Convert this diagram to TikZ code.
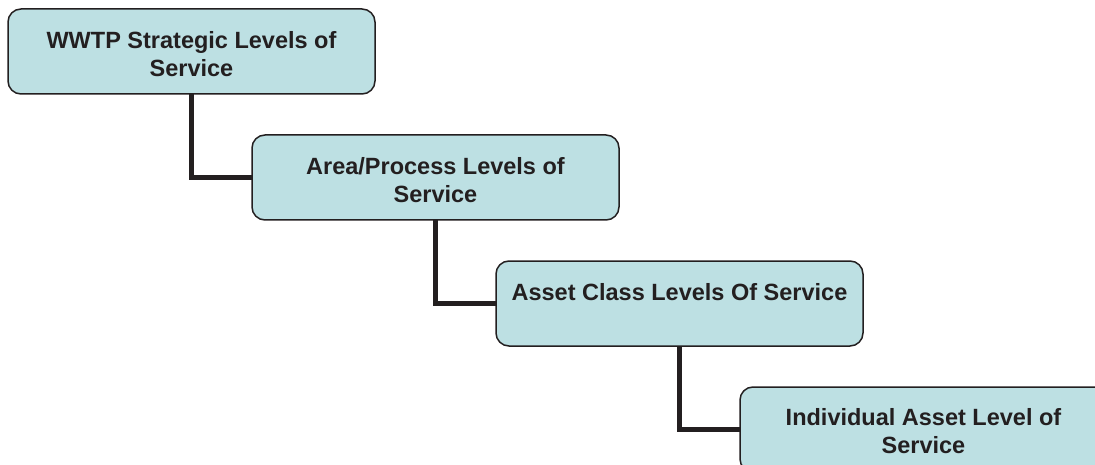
\documentclass[tikz,border=0pt]{standalone}
\usepackage{fontspec}
\setmainfont{Liberation Sans}
\usetikzlibrary{backgrounds}
\definecolor{boxfill}{HTML}{BDE0E3}
\definecolor{ink}{HTML}{231F20}
\begin{document}
\begin{tikzpicture}[x=1pt,y=-1pt,
  levelbox/.style={draw=ink, line width=1.5pt, fill=boxfill, rounded corners=13pt,
    minimum width=367pt, minimum height=85pt, inner sep=0pt, outer sep=0pt},
  leveltext/.style={anchor=north, inner sep=0pt, align=center, text=ink,
    font=\fontsize{23.5}{28}\selectfont\bfseries},
  link/.style={draw=ink, line width=5pt}]
\useasboundingbox (0,0) rectangle (1095,465);
\clip (0,0) rectangle (1095,465);
\node[levelbox] (b1) at (191.5,51.5) {};
\node[levelbox] (b2) at (435.5,177.5) {};
\node[levelbox] (b3) at (679.5,303.5) {};
\node[levelbox] (b4) at (923.5,429.5) {};
\node[leveltext] (t1) at ([yshift=-22.5pt]b1.north) {WWTP Strategic Levels of\\Service};
\node[leveltext] (t2) at ([yshift=-22pt]b2.north) {Area/Process Levels of\\Service};
\node[leveltext] (t3) at ([yshift=-22.5pt]b3.north) {Asset Class Levels Of Service};
\node[leveltext] (t4) at ([yshift=-21pt]b4.north) {Individual Asset Level of\\Service};
\begin{pgfonlayer}{background}
\draw[link] (b1.south) |- (b2.west);
\draw[link] (b2.south) |- (b3.west);
\draw[link] (b3.south) |- (b4.west);
\end{pgfonlayer}
\end{tikzpicture}
\end{document}
